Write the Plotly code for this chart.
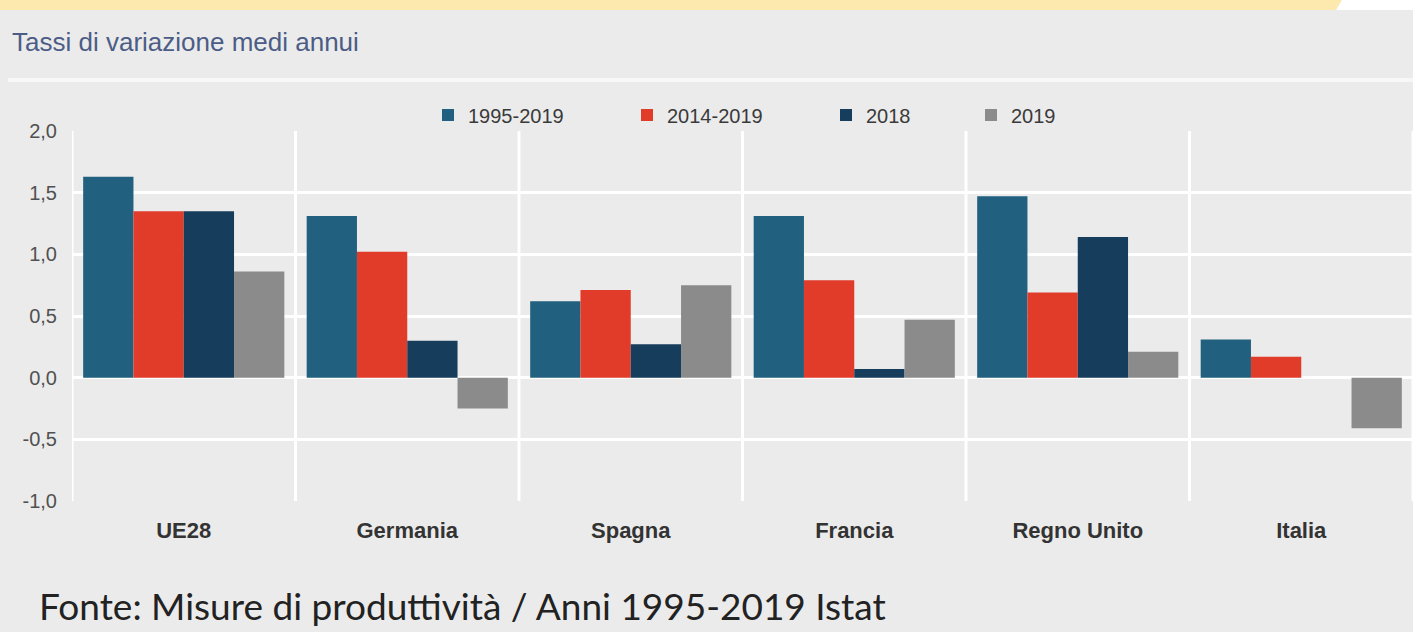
import plotly.graph_objects as go

paesi = ["UE28", "Germania", "Spagna", "Francia", "Regno Unito", "Italia"]
periodi = ["1995-2019", "2014-2019", "2018", "2019"]
v_1995_2019 = [1.63, 1.31, 0.62, 1.31, 1.47, 0.31]
v_2014_2019 = [1.35, 1.02, 0.71, 0.79, 0.69, 0.17]
v_2018 = [1.35, 0.30, 0.27, 0.07, 1.14, None]
v_2019 = [0.86, -0.25, 0.75, 0.47, 0.21, -0.41]
y_ticks = [-1.0, -0.5, 0.0, 0.5, 1.0, 1.5, 2.0]
y_labels = ["-1,0", "-0,5", "0,0", "0,5", "1,0", "1,5", "2,0"]

colori = ["#21607f", "#e13b2a", "#173d5d", "#8b8b8b"]
serie = [v_1995_2019, v_2014_2019, v_2018, v_2019]
legende = ["legend", "legend", "legend2", "legend2"]

W, H = 1413, 632
L, R, T, B = 72, 0, 131, 131
bg = "#ebebeb"
font = "Liberation Sans, Arial, sans-serif"

# pixel -> paper helpers
def px(x):
    return (x - L) / (W - L - R)

def py(y):
    return (H - B - y) / (H - T - B)

fig = go.Figure()
for nome, vals, col, leg in zip(periodi, serie, colori, legende):
    fig.add_trace(go.Bar(x=paesi, y=vals, name=nome, marker_color=col,
                         marker_line_width=0, legend=leg))

shapes = []
# vertical separators between countries
for i in range(len(paesi) + 1):
    shapes.append(dict(type="line", xref="x", yref="y", x0=i - 0.5, x1=i - 0.5,
                       y0=-1, y1=2, line=dict(color="white", width=3), layer="below"))
# white rule under title
shapes.append(dict(type="line", xref="paper", yref="paper", x0=px(8), x1=px(1413),
                   y0=py(80), y1=py(80), line=dict(color="#f7f7f7", width=4)))
# yellow band at the top, white corner at right
shapes.append(dict(type="path", xref="paper", yref="paper",
                   path=f"M {px(0)},{py(0)} L {px(1342)},{py(0)} L {px(1336)},{py(10)} L {px(0)},{py(10)} Z",
                   fillcolor="#fde9ad", line_width=0))
shapes.append(dict(type="path", xref="paper", yref="paper",
                   path=f"M {px(1342)},{py(0)} L {px(1413)},{py(0)} L {px(1413)},{py(10)} L {px(1336)},{py(10)} Z",
                   fillcolor="white", line_width=0))

fig.update_layout(
    width=W, height=H,
    margin=dict(l=L, r=R, t=T, b=B),
    paper_bgcolor=bg, plot_bgcolor=bg,
    barmode="group", bargap=0.1, bargroupgap=0,
    font=dict(family=font, color="#444"),
    shapes=shapes,
    legend=dict(orientation="h", x=px(428), y=py(115), xanchor="left", yanchor="middle",
                entrywidth=154, bgcolor="rgba(0,0,0,0)", font=dict(size=20, color="#3a3a3a")),
    legend2=dict(orientation="h", x=px(826), y=py(115), xanchor="left", yanchor="middle",
                 entrywidth=100, bgcolor="rgba(0,0,0,0)", font=dict(size=20, color="#3a3a3a")),
    xaxis=dict(showgrid=False, zeroline=False, ticks="outside", ticklen=10, tickcolor=bg,
               tickfont=dict(size=22, color="#333", weight="bold"),
               range=[-0.5, 5.5]),
    yaxis=dict(range=[-1, 2], tickvals=y_ticks, ticktext=y_labels, showgrid=True,
               gridcolor="white", gridwidth=3, zeroline=False,
               ticks="outside", ticklen=10, tickcolor=bg,
               tickfont=dict(size=20, color="#505050")),
    annotations=[
        dict(text="Tassi di variazione medi annui", xref="paper", yref="paper",
             x=px(10), y=py(42), xanchor="left", yanchor="middle", showarrow=False,
             font=dict(size=26, color="#4b5d86")),
        dict(text="Fonte: Misure di produttività / Anni 1995-2019 Istat", xref="paper", yref="paper",
             x=px(37), y=py(605), xanchor="left", yanchor="middle", showarrow=False,
             font=dict(size=37, color="#222", family="Lato, Open Sans, sans-serif")),
    ],
)

fig.write_html("out.html", config={"displayModeBar": False},
               post_script="document.body.style.margin='0px';")
